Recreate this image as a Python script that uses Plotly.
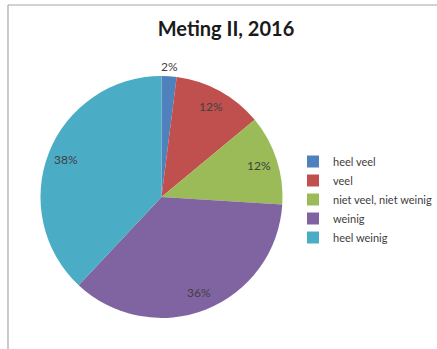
import math
import plotly.graph_objects as go

# answer categories and shares (%) for "Meting II, 2016"
categories = ["heel veel", "veel", "niet veel, niet weinig", "weinig", "heel weinig"]
shares = [2, 12, 12, 36, 38]
slice_colors = ["#4F81BD", "#C0504D", "#9BBB59", "#8064A2", "#4BACC6"]
label_outside = [True, False, False, False, False]

W, H = 437, 349
# pie placement in pixels (centre and radius)
cx, cy, r = 161.5, 197, 121

fig = go.Figure()
fig.add_trace(go.Pie(
    labels=categories,
    values=shares,
    sort=False,
    direction="clockwise",
    rotation=0,
    marker=dict(colors=slice_colors, line=dict(width=0)),
    textinfo="none",
    hoverinfo="label+percent",
    domain=dict(x=[(cx - r) / W, (cx + r) / W], y=[(H - cy - r) / H, (H - cy + r) / H]),
))

# data labels, placed Excel-style along each slice's mid angle
total = sum(shares)
acc = 0
for val, outside in zip(shares, label_outside):
    mid = (acc + val / 2) / total * 2 * math.pi
    acc += val
    k = 1.08 if outside else 0.85
    px_ = cx + k * r * math.sin(mid)
    py_ = cy - k * r * math.cos(mid)
    fig.add_annotation(
        x=px_ / W, y=1 - py_ / H, xref="paper", yref="paper",
        xanchor="center", yanchor="middle",
        text=f"{val}%", showarrow=False,
        font=dict(family="Lato", size=12, color="#404040"),
    )

fig.update_layout(
    width=W,
    height=H,
    margin=dict(l=0, r=0, t=0, b=0),
    paper_bgcolor="white",
    plot_bgcolor="white",
    title=dict(
        text="<b>Meting II, 2016</b>",
        x=226 / W,
        xanchor="center",
        y=1 - 29 / H,
        yanchor="middle",
        font=dict(family="Lato", size=20, color="#1a1a1a"),
    ),
    legend=dict(
        x=1,
        xanchor="right",
        y=1 - 147 / H,
        yanchor="top",
        font=dict(family="Lato", size=11, color="#404040"),
        bgcolor="rgba(0,0,0,0)",
    ),
    shapes=[
        # frame of the chart area (left and top edges)
        dict(type="line", xref="paper", yref="paper",
             x0=8 / W, x1=8 / W, y0=0, y1=1 - 5 / H,
             line=dict(color="#a6a6a6", width=1.2)),
        dict(type="line", xref="paper", yref="paper",
             x0=8 / W, x1=1, y0=1 - 5 / H, y1=1 - 5 / H,
             line=dict(color="#a6a6a6", width=1.2)),
    ],
)

# drop the browser's default 8px body margin so the figure sits at (0, 0)
fig.write_html("out.html", config={"displayModeBar": False},
               post_script="document.body.style.margin='0';")
